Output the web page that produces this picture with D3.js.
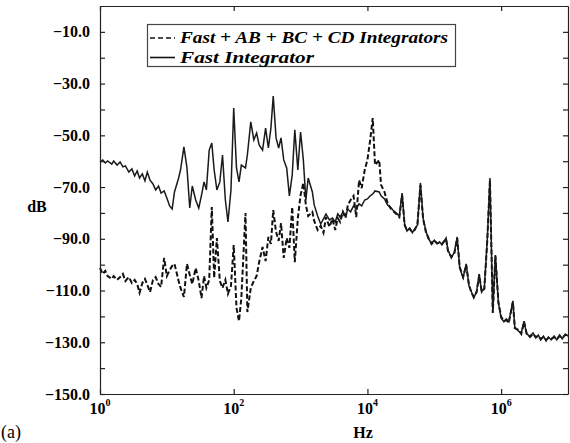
<!DOCTYPE html>
<html>
<head>
<meta charset="utf-8">
<script src="https://cdn.jsdelivr.net/npm/d3@7"></script>
<style>
  body { margin: 0; background: #fff; }
  svg { display: block; }
  text { font-family: "Liberation Serif", "Times New Roman", serif; }
</style>
</head>
<body>
<svg width="570" height="443"></svg>
<script>
// frequency grid (Hz), E24 steps per decade
var hz = [
  1, 1.1, 1.2, 1.3, 1.5, 1.6, 1.8, 2.0, 2.2, 2.4, 2.7, 3.0, 3.3, 3.6, 3.9, 4.3, 4.7, 5.1, 5.6, 6.2, 6.8, 7.5, 8.2, 9.1,
  10, 11, 12, 13, 15, 16, 18, 20, 22, 24, 27, 30, 33, 36, 39, 43, 47, 51, 56, 62, 68, 75, 82, 91,
  100, 110, 120, 130, 150, 160, 180, 200, 220, 240, 270, 300, 330, 360, 390, 430, 470, 510, 560, 620, 680, 750, 820, 910,
  1e3, 1.1e3, 1.2e3, 1.3e3, 1.5e3, 1.6e3, 1.8e3, 2e3, 2.2e3, 2.4e3, 2.7e3, 3e3, 3.3e3, 3.6e3, 3.9e3, 4.3e3, 4.7e3, 5.1e3, 5.6e3, 6.2e3, 6.8e3, 7.5e3, 8.2e3, 9.1e3,
  1e4, 1.1e4, 1.2e4, 1.3e4, 1.5e4, 1.6e4, 1.8e4, 2e4, 2.2e4, 2.4e4, 2.7e4, 3e4, 3.3e4, 3.6e4, 3.9e4, 4.3e4, 4.7e4, 5.1e4, 5.6e4, 6.2e4, 6.8e4, 7.5e4, 8.2e4, 9.1e4,
  1e5, 1.1e5, 1.2e5, 1.3e5, 1.5e5, 1.6e5, 1.8e5, 2e5, 2.2e5, 2.4e5, 2.7e5, 3e5, 3.3e5, 3.6e5, 3.9e5, 4.3e5, 4.7e5, 5.1e5, 5.6e5, 6.2e5, 6.8e5, 7.5e5, 8.2e5, 9.1e5,
  1e6, 1.1e6, 1.2e6, 1.3e6, 1.5e6, 1.6e6, 1.8e6, 2e6, 2.2e6, 2.4e6, 2.7e6, 3e6, 3.3e6, 3.6e6, 3.9e6, 4.3e6, 4.7e6, 5.1e6, 5.6e6, 6.2e6, 6.8e6, 7.5e6, 8.2e6, 9.1e6,
  1e7
];

// Fast Integrator (solid), dB
var fastOnly = [
  -60.3, -59.5, -60.7, -59.9, -61.1, -59.9, -61.5, -60.3, -62.2, -61.8, -64.2, -63.0, -65.7, -63.8, -66.5, -64.9, -67.6, -64.2, -67.3, -68.8, -71.1, -69.6, -72.3, -71.5,
  -74.2, -77.3, -78.5, -71.9, -66.5, -63.4, -54.5, -62.6, -78.1, -69.6, -75.0, -78.1, -73.1, -68.0, -71.1, -55.7, -53.0, -63.4, -71.1, -68.0, -57.6, -75.0, -83.5, -71.1,
  -39.4, -62.6, -68.0, -61.5, -62.6, -57.6, -44.8, -51.8, -49.1, -53.7, -55.7, -47.2, -54.9, -47.2, -34.8, -51.0, -54.9, -51.0, -59.5, -62.6, -73.4, -65.3, -47.9, -63.4,
  -48.7, -59.5, -75.0, -66.5, -71.9, -76.9, -81.2, -84.3, -82.3, -80.4, -82.7, -82.0, -83.5, -80.4, -81.6, -79.6, -81.2, -78.5, -79.6, -77.3, -78.5, -76.5, -77.3, -75.0,
  -74.6, -73.4, -72.7, -71.5, -71.9, -73.4, -74.6, -76.9, -77.7, -78.9, -80.0, -81.2, -72.3, -84.3, -87.0, -85.8, -87.7, -86.2, -84.7, -68.4, -82.0, -87.0, -90.1, -91.6,
  -90.5, -92.0, -91.2, -92.4, -89.7, -94.3, -97.4, -95.1, -89.3, -101.3, -105.1, -99.7, -108.2, -110.6, -112.9, -110.2, -103.6, -110.6, -109.0, -90.5, -66.5, -118.3, -96.3, -114.8,
  -120.6, -122.1, -121.0, -122.1, -114.0, -124.1, -125.6, -126.4, -121.8, -126.8, -127.6, -126.4, -128.3, -127.2, -129.1, -127.6, -129.5, -128.0, -129.1, -127.6, -129.1, -127.2, -128.7, -126.8,
  -127.6
];

// Fast + AB + BC + CD Integrators (dashed), dB
var allInteg = [
  -101.3, -103.6, -102.4, -104.4, -105.5, -104.4, -105.9, -104.8, -103.6, -106.3, -104.8, -107.1, -105.9, -107.5, -110.9, -107.1, -105.5, -107.8, -110.6, -105.9, -104.8, -107.5, -108.6, -97.4,
  -104.4, -102.1, -100.5, -99.7, -106.3, -109.0, -112.5, -99.7, -104.0, -107.5, -101.3, -106.3, -112.9, -104.4, -109.0, -105.9, -77.7, -105.1, -89.7, -106.3, -109.0, -105.9, -111.3, -108.2,
  -92.4, -116.7, -121.8, -112.9, -80.0, -118.3, -109.0, -106.3, -104.4, -99.0, -93.2, -98.6, -89.3, -92.0, -78.9, -87.4, -90.8, -83.9, -97.4, -89.7, -93.5, -77.7, -99.0, -82.0,
  -73.1, -68.4, -76.9, -81.2, -79.6, -83.1, -86.6, -85.0, -87.7, -81.6, -85.4, -82.3, -86.6, -82.0, -83.5, -79.6, -82.0, -76.9, -75.0, -73.4, -81.6, -67.3, -70.4, -63.4,
  -59.5, -51.8, -43.3, -61.5, -59.5, -69.2, -71.9, -76.2, -78.1, -79.2, -80.4, -81.6, -73.1, -84.7, -86.6, -86.2, -87.4, -86.6, -84.3, -69.2, -82.3, -87.4, -89.7, -92.0,
  -90.8, -91.6, -91.6, -92.0, -90.1, -94.7, -97.0, -95.5, -89.7, -100.9, -104.8, -100.1, -107.8, -110.9, -112.5, -110.6, -104.0, -110.2, -109.4, -90.8, -67.3, -118.7, -96.6, -114.4,
  -120.2, -121.8, -121.4, -122.5, -114.4, -124.5, -125.2, -126.8, -122.1, -126.4, -128.0, -126.8, -128.0, -127.6, -128.7, -128.0, -129.1, -128.3, -128.7, -128.0, -128.7, -127.6, -128.3, -127.2,
  -127.2
];

var yTicks = [-150, -140, -130, -120, -110, -100, -90, -80, -70, -60, -50, -40, -30, -20, -10];
var yLabels = [-150, -130, -110, -90, -70, -50, -30, -10];
var xTicks = [1, 1e2, 1e4, 1e6];
var xExps = ["0", "2", "4", "6"];
var legendNames = ["Fast + AB + BC + CD Integrators", "Fast Integrator"];
var legendWidths = [268, 134];

var svg = d3.select("svg");
var pLeft = 100, pRight = 568, pTop = 6, pBottom = 394;

var x = d3.scaleLog().domain([1, 1e7]).range([pLeft, pRight]);
var y = d3.scaleLinear().domain([-150, 0]).range([pBottom, pTop]);

var fmt = d3.format(".1f");

///////////////////// CURVES ////////////////////
var line = d3.line()
    .x(function(d) { return x(d[0]); })
    .y(function(d) { return y(d[1]); });

svg.append("path")
    .datum(hz.map(function(f, i) { return [f, allInteg[i]]; }))
    .attr("d", line)
    .attr("fill", "none")
    .attr("stroke", "#111")
    .attr("stroke-width", 2)
    .attr("stroke-dasharray", "5,2.5");

svg.append("path")
    .datum(hz.map(function(f, i) { return [f, fastOnly[i]]; }))
    .attr("d", line)
    .attr("fill", "none")
    .attr("stroke", "#1a1a1a")
    .attr("stroke-width", 1.5);

///////////////////// AXES ////////////////////
svg.append("g")
    .attr("transform", "translate(" + pLeft + ",0)")
    .call(d3.axisLeft(y).tickValues(yTicks).tickSizeInner(-5).tickSizeOuter(0).tickPadding(10)
        .tickFormat(function(d) { return yLabels.indexOf(d) >= 0 ? fmt(d) : ""; }))
    .call(function(g) {
        g.selectAll("text").attr("font-size", "16px").attr("font-weight", "bold")
            .attr("font-family", "Liberation Serif").attr("fill", "#000");
    });

svg.append("g")
    .attr("transform", "translate(" + pRight + ",0)")
    .call(d3.axisRight(y).tickValues(yTicks).tickSizeInner(-5).tickSizeOuter(0).tickFormat(""));

svg.append("g")
    .attr("transform", "translate(0," + pBottom + ")")
    .call(d3.axisBottom(x).tickValues(xTicks).tickSizeInner(-5).tickSizeOuter(0).tickFormat(""));

svg.append("g")
    .attr("transform", "translate(0," + pTop + ")")
    .call(d3.axisTop(x).tickValues(xTicks).tickSizeInner(-5).tickSizeOuter(0).tickFormat(""));

svg.selectAll(".domain, .tick line").attr("stroke", "#222").attr("stroke-width", 1.2);

var xl = svg.append("g").selectAll("text")
    .data(xTicks)
    .enter().append("text")
    .attr("x", function(d) { return x(d); })
    .attr("y", 414)
    .attr("text-anchor", "middle")
    .attr("font-size", "16px")
    .attr("font-weight", "bold");
xl.append("tspan").text("10");
xl.append("tspan").attr("dy", -8).attr("font-size", "10px").text(function(d, i) { return xExps[i]; });

svg.append("text")
    .attr("x", 363).attr("y", 438)
    .attr("text-anchor", "middle")
    .attr("font-size", "16px").attr("font-weight", "bold")
    .text("Hz");

svg.append("text")
    .attr("x", 37).attr("y", 212)
    .attr("text-anchor", "middle")
    .attr("font-size", "16px").attr("font-weight", "bold")
    .text("dB");

svg.append("text")
    .attr("x", 1).attr("y", 438)
    .attr("font-size", "18px")
    .text("(a)");

///////////////////// LEGEND ////////////////////
var lg = svg.append("g");
lg.append("rect")
    .attr("x", 147.5).attr("y", 24.5)
    .attr("width", 308).attr("height", 42)
    .attr("fill", "#fff").attr("stroke", "#444").attr("stroke-width", 1.2);

var rows = lg.selectAll("g.row")
    .data(legendNames)
    .enter().append("g")
    .attr("transform", function(d, i) { return "translate(0," + (38 + i * 19.5) + ")"; });

rows.append("line")
    .attr("x1", 150).attr("x2", 175)
    .attr("stroke", "#111").attr("stroke-width", 1.6)
    .attr("stroke-dasharray", function(d, i) { return i === 0 ? "5,3" : null; });

rows.append("text")
    .attr("x", 180).attr("y", 5)
    .attr("font-size", "16px").attr("font-weight", "bold").attr("font-style", "italic")
    .attr("textLength", function(d, i) { return legendWidths[i]; })
    .attr("lengthAdjust", "spacingAndGlyphs")
    .text(function(d) { return d; });
</script>
</body>
</html>
